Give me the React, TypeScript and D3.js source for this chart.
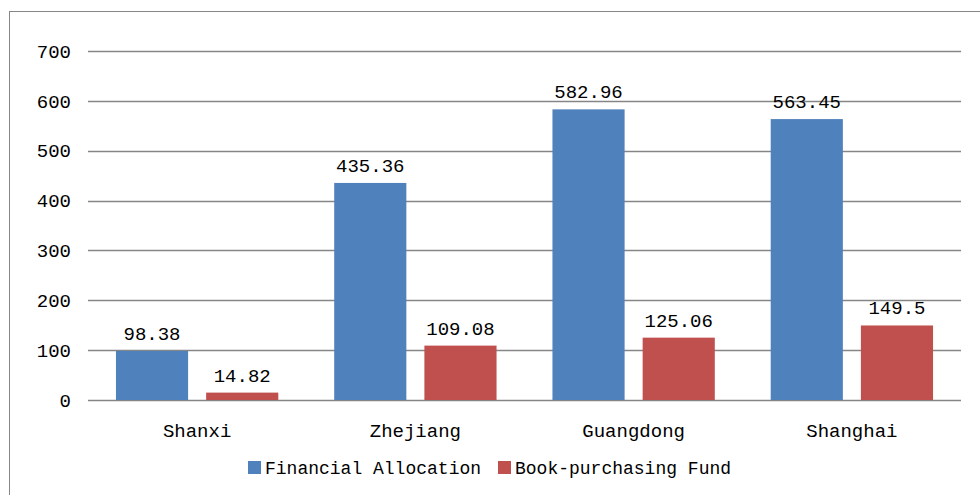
import React, { useEffect, useRef } from 'react'
import * as d3 from 'd3'

const categories = ['Shanxi', 'Zhejiang', 'Guangdong', 'Shanghai']
const seriesNames = ['Financial Allocation', 'Book-purchasing Fund']
const financialAllocation = [98.38, 435.36, 582.96, 563.45]
const bookFund = [14.82, 109.08, 125.06, 149.5]
const yTicks = [0, 100, 200, 300, 400, 500, 600, 700]
const colors = ['#4F81BD', '#C0504D']

export default function App() {
  const ref = useRef<SVGSVGElement | null>(null)

  useEffect(() => {
    if (!ref.current) return
    const W = 980
    const H = 495
    const margin = { top: 51, right: 19, bottom: 95, left: 88 }
    const font = '"Liberation Mono", "DejaVu Sans Mono", monospace'

    const svg = d3.select(ref.current)
    svg.selectAll('*').remove()
    svg.attr('width', W).attr('height', H)

    // outer frame (open at right/bottom like the source)
    svg.append('rect')
      .attr('x', 9.5).attr('y', 11.5)
      .attr('width', 1000).attr('height', 600)
      .attr('fill', 'none').attr('stroke', '#868686')

    const x0 = d3.scaleBand()
      .domain(categories)
      .range([margin.left, W - margin.right])
      .paddingInner(0)
      .paddingOuter(0)

    const x1 = d3.scaleBand()
      .domain(seriesNames)
      .range([0, x0.bandwidth()])
      .paddingInner(0.2)
      .paddingOuter(0.31)

    const y = d3.scaleLinear()
      .domain([0, 700])
      .range([H - margin.bottom, margin.top])

    // gridlines
    svg.append('g')
      .selectAll('line')
      .data(yTicks)
      .enter()
      .append('line')
      .attr('x1', margin.left)
      .attr('x2', W - margin.right)
      .attr('y1', d => Math.round(y(d)) + 0.5)
      .attr('y2', d => Math.round(y(d)) + 0.5)
      .attr('stroke', '#868686')
      .attr('stroke-width', 1.5)

    // y tick labels
    svg.append('g')
      .selectAll('text')
      .data(yTicks)
      .enter()
      .append('text')
      .attr('x', 71)
      .attr('y', d => y(d))
      .attr('dy', '0.35em')
      .attr('text-anchor', 'end')
      .attr('font-family', font)
      .attr('font-size', 19)
      .attr('fill', '#000')
      .text(d => d)

    const rows = categories.map((c, i) => ({
      cat: c,
      values: [financialAllocation[i], bookFund[i]]
    }))

    const groups = svg.append('g')
      .selectAll('g')
      .data(rows)
      .enter()
      .append('g')
      .attr('transform', d => `translate(${x0(d.cat)},0)`)

    groups.selectAll('rect')
      .data(d => d.values.map((v, j) => ({ v, s: seriesNames[j], j })))
      .enter()
      .append('rect')
      .attr('x', d => x1(d.s)!)
      .attr('width', x1.bandwidth())
      .attr('y', d => y(d.v))
      .attr('height', d => y(0) - y(d.v))
      .attr('fill', d => colors[d.j])

    groups.selectAll('text.lbl')
      .data(d => d.values.map((v, j) => ({ v, s: seriesNames[j], j })))
      .enter()
      .append('text')
      .attr('class', 'lbl')
      .attr('x', d => x1(d.s)! + x1.bandwidth() / 2)
      .attr('y', d => y(d.v) - 11)
      .attr('text-anchor', 'middle')
      .attr('font-family', font)
      .attr('font-size', 19)
      .attr('fill', '#000')
      .text(d => String(d.v))

    // category labels
    svg.append('g')
      .selectAll('text')
      .data(categories)
      .enter()
      .append('text')
      .attr('x', d => x0(d)! + x0.bandwidth() / 2)
      .attr('y', 437)
      .attr('text-anchor', 'middle')
      .attr('font-family', font)
      .attr('font-size', 19)
      .attr('fill', '#000')
      .text(d => d)

    // legend
    const legendX = [248, 498]
    const legend = svg.append('g')
      .selectAll('g')
      .data(seriesNames)
      .enter()
      .append('g')
      .attr('transform', (d, i) => `translate(${legendX[i]},461)`)
    legend.append('rect')
      .attr('width', 13).attr('height', 13)
      .attr('fill', (d, i) => colors[i])
    legend.append('text')
      .attr('x', 17)
      .attr('y', 7)
      .attr('dy', '0.35em')
      .attr('font-family', font)
      .attr('font-size', 18)
      .attr('fill', '#000')
      .text(d => d)
  }, [])

  return (
    <svg ref={ref} style={{ position: 'absolute', left: 0, top: 0, background: '#fff' }} />
  )
}
